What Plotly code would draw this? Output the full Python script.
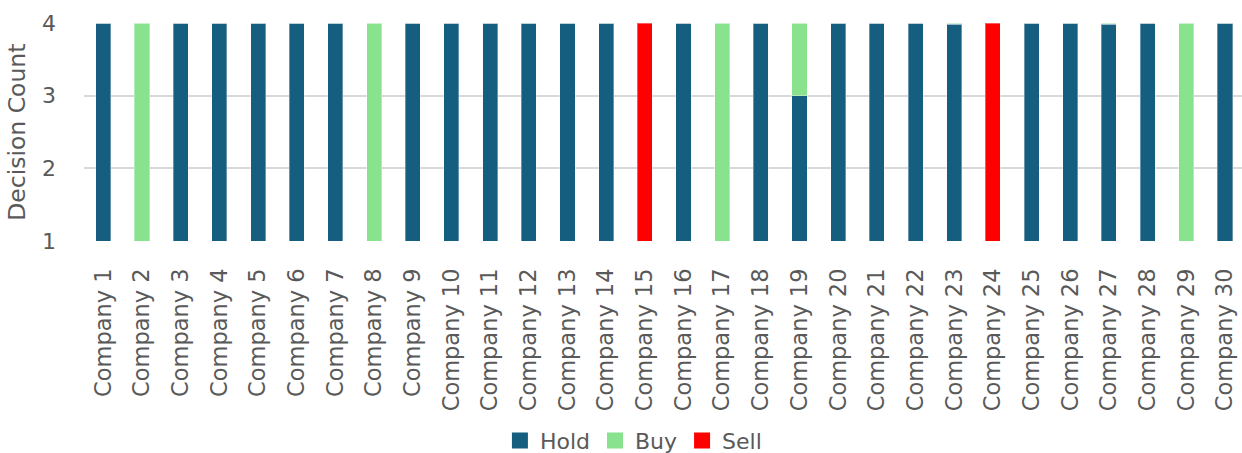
import plotly.graph_objects as go

companies = [f"Company {i}" for i in range(1, 31)]
hold = [4, 0, 4, 4, 4, 4, 4, 0, 4, 4, 4, 4, 4, 4, 0, 4, 0, 4, 3, 4, 4, 4, 3.98, 0, 4, 4, 3.98, 4, 0, 4]
buy  = [0, 4, 0, 0, 0, 0, 0, 4, 0, 0, 0, 0, 0, 0, 0, 0, 4, 0, 1, 0, 0, 0, 0.02, 0, 0, 0, 0.02, 0, 4, 0]
sell = [0, 0, 0, 0, 0, 0, 0, 0, 0, 0, 0, 0, 0, 0, 4, 0, 0, 0, 0, 0, 0, 0, 0, 4, 0, 0, 0, 0, 0, 0]
y_ticks = [1, 2, 3, 4]

series = [("Hold", hold, "#165E80"), ("Buy", buy, "#88E28E"), ("Sell", sell, "#FF0000")]

font_family = "DejaVu Sans, sans-serif"
grey = "#595959"
fs = 22

fig = go.Figure()
for name, vals, col in series:
    fig.add_trace(go.Bar(
        x=companies, y=vals, name=name, legendgroup=name, showlegend=False,
        marker=dict(color=col, line=dict(color="rgba(255,255,255,0.35)", width=1)),
    ))
# legend entries with larger square swatches
for name, vals, col in series:
    fig.add_trace(go.Scatter(
        x=[None], y=[None], mode="markers", name=name, legendgroup=name,
        marker=dict(symbol="square", size=17, color=col),
    ))

fig.add_annotation(
    text="Decision Count", textangle=-90, xref="paper", yref="paper",
    x=-0.058, y=0.5, xanchor="center", yanchor="middle", showarrow=False,
    font=dict(size=23.5, color=grey, family=font_family),
)

fig.update_layout(
    barmode="stack",
    bargap=0.61,
    width=1242, height=453,
    margin=dict(l=84, r=0, t=23, b=212),
    plot_bgcolor="white", paper_bgcolor="white",
    font=dict(family=font_family, color=grey, size=fs),
    showlegend=True,
    legend=dict(orientation="h", xref="container", yref="container",
                x=0.51, xanchor="center", y=0.027, yanchor="middle",
                font=dict(size=fs, color=grey), traceorder="normal",
                itemsizing="trace"),
    xaxis=dict(tickangle=-90, tickfont=dict(size=22.5, color=grey), showgrid=False,
               showline=False, ticks="", automargin=False, range=[-0.5, 29.44],
               ticklabelstandoff=22),
    yaxis=dict(range=[1, 4], tickvals=y_ticks, showgrid=True, gridcolor="#D9D9D9",
               gridwidth=1.5, zeroline=False, showline=False, ticks="",
               tickfont=dict(size=fs, color=grey), automargin=False,
               ticklabelstandoff=27),
)

fig.write_html("out.html", config={"displayModeBar": False},
               post_script="document.body.style.margin='0px';")
